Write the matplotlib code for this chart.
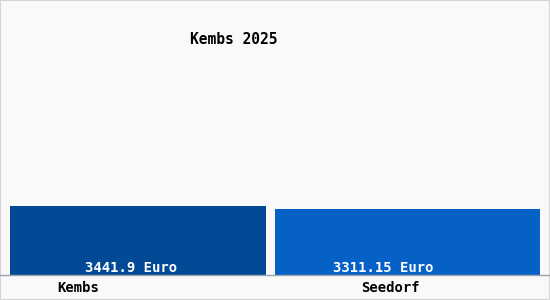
import matplotlib
matplotlib.use("Agg")
import matplotlib.pyplot as plt
from matplotlib.patches import Rectangle

# Datos
orte = ["Kembs", "Seedorf"]
werte = [3441.9, 3311.15]
etiquetas = ["3441.9 Euro", "3311.15 Euro"]
farben = ["#034a96", "#0561c5"]
titel = "Kembs 2025"

fig = plt.figure(figsize=(5.5, 3.0), dpi=100, facecolor="#f9f9f9")
fig.patches.append(Rectangle((0, 0), 1, 1, transform=fig.transFigure,
                             fill=False, edgecolor="#d4d4d4", linewidth=1.5))

# ejes: desde x=10 a x=540 px, y desde 275 px (base) hasta arriba
ax = fig.add_axes([10 / 550, 25 / 300, 530 / 550, 275 / 300])
ax.set_facecolor("#f9f9f9")
x = list(range(len(orte)))
ax.bar(x, werte, width=[0.95, 0.983], color=farben)
ax.set_xlim(-0.475, 1.4917)
ax.set_ylim(0, werte[0] * 275 / 69)
ax.axis("off")

mono = "DejaVu Sans Mono"
# etiquetas dentro de las barras
for i, txt in enumerate(etiquetas):
    ax.annotate(txt, (x[i], 0), xytext=(-7 if i == 0 else -24, 7),
                textcoords="offset pixels", ha="center", va="center",
                color="white", fontsize=10, family=mono, fontweight="bold")

# linea base
fig.add_artist(plt.Line2D([0, 1], [25 / 300, 25 / 300], transform=fig.transFigure,
                          color="#9aa4ad", linewidth=1))

# nombres de los lugares
for i, nombre in enumerate(orte):
    ax.annotate(nombre, (x[i], 0), xytext=(-60 if i == 0 else -17, -13),
                textcoords="offset pixels", ha="center", va="center",
                color="black", fontsize=10, family=mono, fontweight="bold")

fig.text(234 / 550, 1 - 39 / 300, titel, ha="center", va="center",
         fontsize=10.5, family=mono, color="black", fontweight="bold")

fig.savefig("out.png", dpi=100, facecolor=fig.get_facecolor())
